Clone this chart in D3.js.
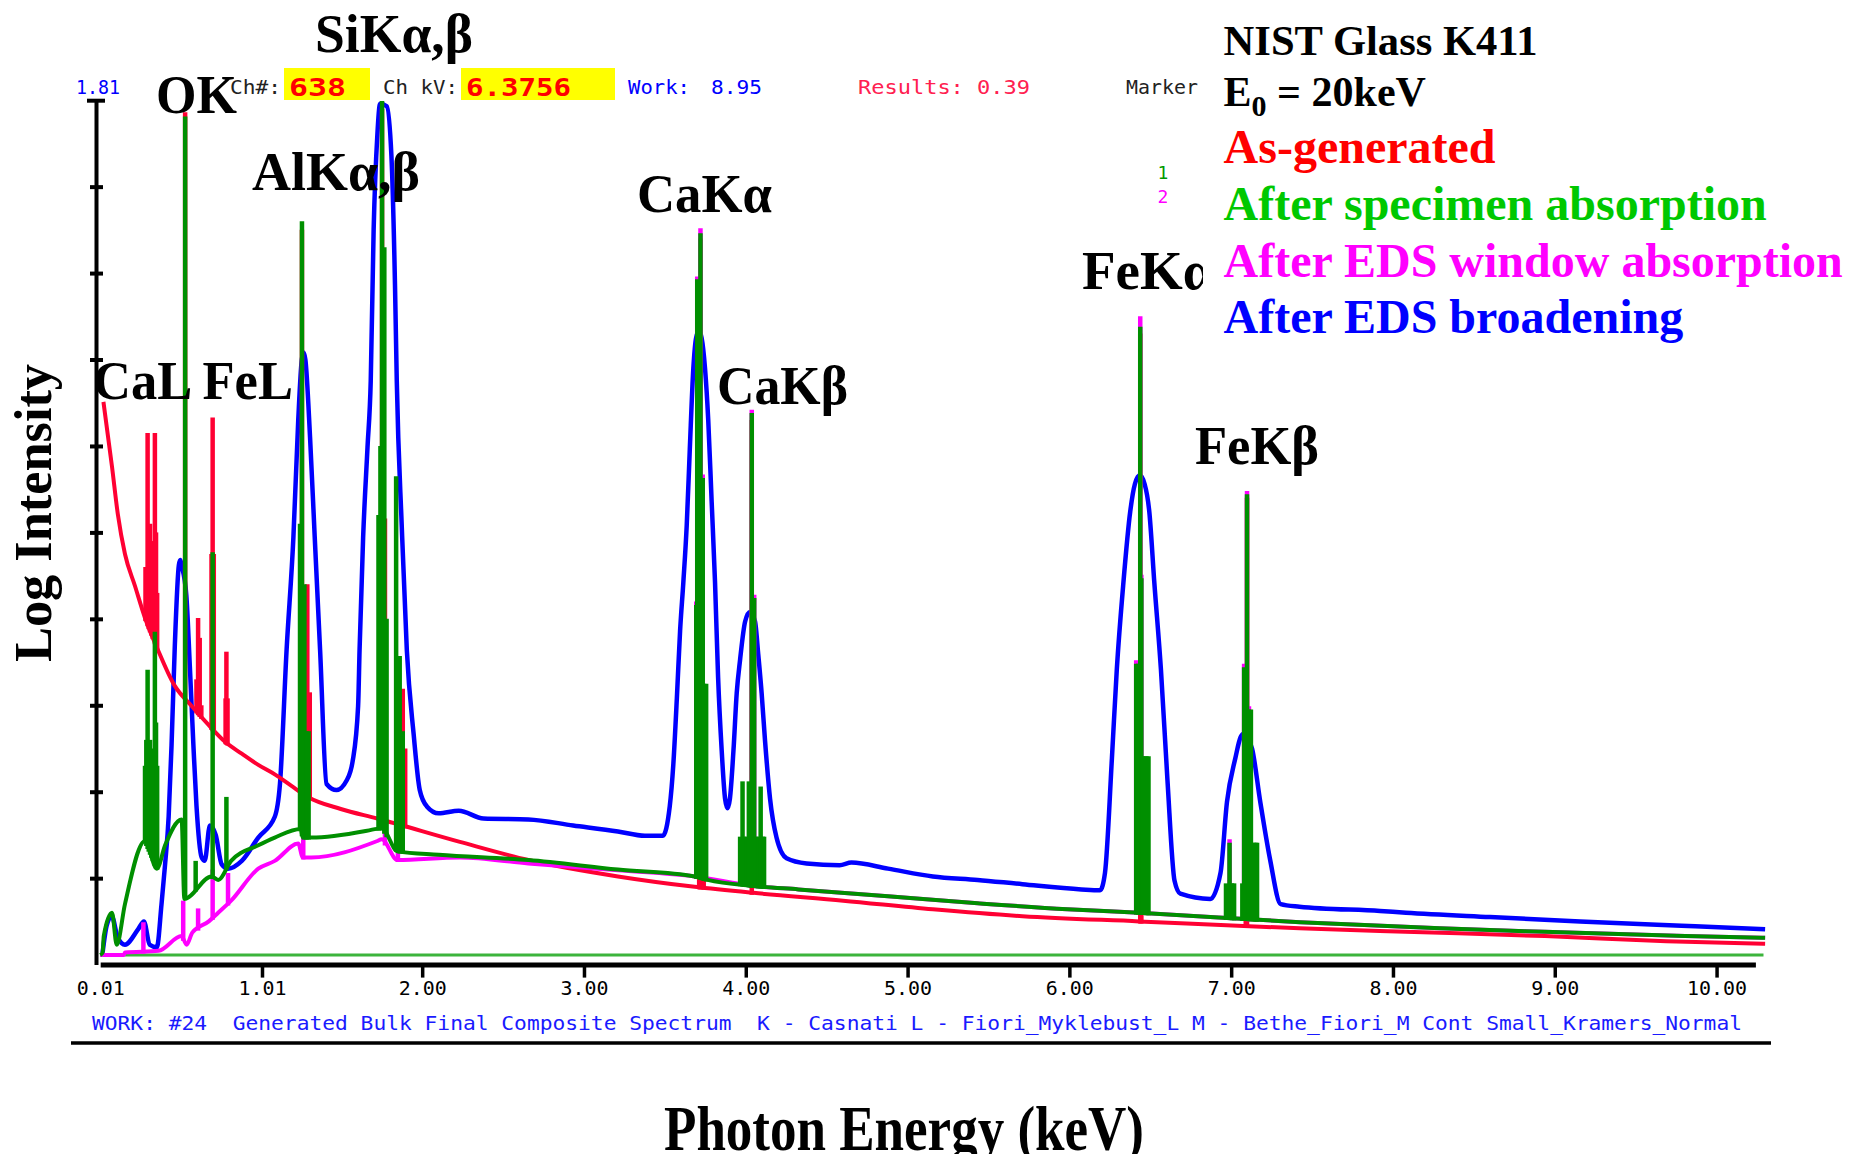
<!DOCTYPE html>
<html>
<head>
<meta charset="utf-8">
<script src="https://cdn.jsdelivr.net/npm/d3@7"></script>
<style>
  body { margin: 0; background: #fff; }
  svg { display: block; }
</style>
</head>
<body>
<div id="chart"></div>
<script>
// Energies in keV, intensities in log units (one y tick = 1)
const xTicks = [0.01, 1.01, 2, 3, 4, 5, 6, 7, 8, 9, 10];
const yTicks = [1, 2, 3, 4, 5, 6, 7, 8, 9, 10];

const zeroTrace = [[0.01, 0.11], [10.29, 0.11]];

// As-generated continuum and its characteristic lines
const asGenerated = [[0.03,6.51],[0.083,5.76],[0.119,5.21],[0.163,4.75],[0.225,4.38],[0.287,4.01],[0.367,3.64],[0.469,3.23],[0.571,3.00],[0.681,2.77],[0.78,2.58],[0.885,2.44],[0.987,2.31],[1.089,2.20],[1.19,2.07],[1.293,1.94],[1.497,1.80],[1.723,1.69],[2.233,1.42],[2.656,1.21],[3.21,1.02],[3.684,0.90],[4.048,0.83],[4.602,0.74],[5.156,0.64],[5.71,0.56],[6.431,0.50],[7.422,0.42],[8.076,0.38],[8.938,0.33],[9.69,0.27],[10.30,0.24]];
const asGeneratedLines = [[0.29,4.6],[0.303,6.15],[0.31,5.0],[0.318,5.1],[0.326,4.8],[0.335,4.9],[0.348,6.15],[0.355,5.0],[0.362,4.3],
  [0.535,9.86],[0.605,3.3],[0.615,4.01],[0.625,3.78],[0.635,3.0],[0.698,4.75],[0.705,6.33],[0.712,4.75],[0.785,3.08],[0.79,3.62],[0.797,3.08],
  [1.257,8.5],[1.29,4.4],[1.305,3.15],[1.752,9.9],[1.77,5.16],[1.88,3.19],[1.895,2.5],
  [3.712,4.1],[3.72,8.4],[3.74,2.7],[4.037,6.3],[6.438,7.3],[6.445,1.38],[7.09,0.95],[7.098,5.4]];

// After specimen absorption
const specimen = [[0.01,0.11],[0.025,0.14],[0.032,0.33],[0.083,0.60],[0.112,0.23],[0.163,0.70],[0.287,1.43],[0.36,1.11],[0.411,1.38],[0.513,1.68],[0.53,0.76],[0.698,1.02],[0.739,0.98],[0.819,1.20],[0.987,1.38],[1.089,1.47],[1.249,1.57],[1.262,1.47],[1.315,1.47],[1.72,1.57],[1.75,1.58],[1.847,1.31],[2.102,1.27],[2.656,1.21],[3.21,1.10],[3.684,1.02],[3.764,0.98],[4.048,0.91],[4.325,0.87],[4.879,0.79],[5.433,0.71],[5.987,0.64],[6.431,0.60],[7.426,0.49],[8.29,0.42],[8.938,0.38],[9.806,0.33],[10.30,0.31]];
const specimenLines = [[0.287,2.3],[0.295,2.6],[0.303,3.41],[0.31,2.35],[0.318,2.6],[0.326,2.4],[0.335,2.5],[0.348,3.85],[0.355,2.8],[0.362,2.3],
  [0.535,9.81],[0.60,1.2],[0.705,4.77],[0.79,1.94],
  [1.245,5.1],[1.257,8.6],[1.272,4.4],[1.285,2.7],[1.298,2.7],
  [1.73,5.2],[1.742,6.0],[1.752,9.99],[1.766,8.3],[1.78,4.0],[1.839,5.65],[1.861,3.57],[1.88,2.7],
  [3.694,4.16],[3.70,7.93],[3.72,8.46],[3.734,5.63],[3.742,3.25],[3.755,3.25],
  [3.965,1.48],[3.98,2.12],[3.99,1.48],[4.005,1.48],[4.019,2.12],[4.03,1.48],[4.037,6.38],[4.052,4.24],[4.065,1.48],[4.078,1.48],[4.092,2.06],[4.105,1.48],[4.113,1.48],
  [6.413,3.48],[6.425,3.48],[6.438,7.38],[6.445,4.47],[6.452,2.41],[6.464,2.41],[6.476,2.41],[6.489,2.41],
  [6.968,0.94],[6.99,1.41],[7.005,0.94],[7.018,0.94],[7.069,0.94],[7.08,3.44],[7.098,5.44],[7.11,2.95],[7.122,2.95],[7.138,1.41],[7.15,1.41],[7.16,1.41]];

// After EDS window absorption
const windowAbs = [[0.01,0.11],[0.156,0.11],[0.163,0.14],[0.371,0.16],[0.513,0.33],[0.544,0.23],[0.579,0.37],[0.681,0.50],[0.739,0.60],[0.819,0.74],[0.987,1.11],[1.089,1.20],[1.234,1.40],[1.262,1.24],[1.315,1.24],[1.723,1.43],[1.75,1.45],[1.847,1.21],[2.233,1.24],[2.656,1.17],[3.21,1.09],[3.684,1.02],[4.048,0.91],[4.325,0.87],[4.879,0.79],[5.433,0.71],[5.987,0.64],[6.431,0.60],[7.426,0.49],[8.29,0.42],[8.938,0.38],[9.806,0.33],[10.30,0.31]];
const windowLines = [[0.277,0.49],[0.523,0.74],[0.615,0.65],[0.705,1.1],[0.80,1.06],[1.265,1.85],[1.77,3.1],[1.85,2.3],
  [3.694,4.2],[3.70,7.96],[3.72,8.52],[3.734,5.67],[4.037,6.42],[4.052,4.28],
  [6.413,3.52],[6.438,7.5],[6.445,4.51],[6.99,1.45],[7.08,3.48],[7.098,5.48],[7.11,2.99]];

// After EDS broadening
const broadened = [[0.025,0.14],[0.05,0.45],[0.081,0.56],[0.119,0.31],[0.163,0.23],[0.245,0.41],[0.28,0.50],[0.316,0.23],[0.36,0.20],[0.389,0.70],[0.411,1.16],[0.433,1.71],[0.451,2.54],[0.471,3.68],[0.496,4.62],[0.505,4.68],[0.513,4.62],[0.542,4.28],[0.564,3.45],[0.586,2.54],[0.605,1.84],[0.637,1.24],[0.656,1.20],[0.688,1.61],[0.724,1.50],[0.761,1.16],[0.801,1.11],[0.885,1.20],[0.987,1.47],[1.089,1.71],[1.121,2.09],[1.162,3.64],[1.204,4.94],[1.234,6.30],[1.256,7.0],[1.267,7.08],[1.278,7.0],[1.307,6.10],[1.336,4.94],[1.369,3.64],[1.409,2.09],[1.471,2.02],[1.533,2.13],[1.57,2.35],[1.604,2.99],[1.613,3.64],[1.635,4.94],[1.662,5.98],[1.682,6.75],[1.70,8.50],[1.723,9.60],[1.74,9.96],[1.781,9.93],[1.81,9.35],[1.832,7.86],[1.843,6.75],[1.874,5.06],[1.905,3.64],[1.947,2.67],[1.985,2.02],[2.029,1.83],[2.102,1.75],[2.226,1.78],[2.379,1.69],[2.656,1.68],[2.933,1.61],[3.21,1.54],[3.377,1.49],[3.487,1.49],[3.53,1.83],[3.552,2.31],[3.574,3.08],[3.594,3.86],[3.614,4.42],[3.635,5.08],[3.654,5.96],[3.676,6.90],[3.693,7.25],[3.71,7.33],[3.727,7.25],[3.748,6.90],[3.768,6.30],[3.789,5.36],[3.81,4.42],[3.829,3.32],[3.851,2.48],[3.872,1.92],[3.887,1.81],[3.902,1.92],[3.924,2.48],[3.944,3.14],[3.965,3.53],[3.996,3.97],[4.026,4.08],[4.057,3.97],[4.077,3.59],[4.098,3.14],[4.119,2.59],[4.15,1.92],[4.19,1.47],[4.252,1.23],[4.376,1.17],[4.58,1.15],[4.653,1.18],[4.879,1.11],[5.156,1.02],[5.433,0.98],[5.71,0.93],[6.074,0.87],[6.19,0.86],[6.22,1.06],[6.263,2.39],[6.293,3.41],[6.334,4.42],[6.376,5.24],[6.405,5.56],[6.435,5.66],[6.465,5.56],[6.494,5.24],[6.525,4.42],[6.566,3.41],[6.606,2.14],[6.65,0.97],[6.686,0.82],[6.871,0.76],[6.934,1.06],[6.974,1.88],[7.026,2.39],[7.058,2.63],[7.077,2.67],[7.095,2.63],[7.129,2.50],[7.18,1.88],[7.241,1.21],[7.306,0.70],[7.422,0.67],[7.92,0.62],[8.08,0.60],[8.6,0.55],[9.157,0.50],[9.784,0.45],[10.30,0.41]];

const legendNames = ["As-generated", "After specimen absorption", "After EDS window absorption", "After EDS broadening"];

const width = 1849, height = 1154;
const colors = { red: "#ff0033", green: "#008f00", magenta: "#ff00ff", blue: "#0000ff", base: "#3cb43c" };
const legendColors = ["#ff0000", "#00c800", "#ff00ff", "#0000ff"];
const serif = "'Liberation Serif', 'Times New Roman', serif";
const mono = "'DejaVu Sans Mono', monospace";

const svg = d3.select("#chart").append("svg")
    .attr("width", width)
    .attr("height", height);

// Scales
const x = d3.scaleLinear().domain([0.01, 10.24]).range([100.2, 1755.4]);
const y = d3.scaleLinear().domain([0, 10]).range([964.6, 100.2]);

const line = d3.line().x(d => x(d[0])).y(d => y(d[1])).curve(d3.curveMonotoneX);

// linear interpolation of a series at energy e, used as foot of each line
function levelAt(series, e) {
    const i = d3.bisector(d => d[0]).left(series, e);
    if (i <= 0) return series[0][1];
    if (i >= series.length) return series[series.length - 1][1];
    const a = series[i - 1], b = series[i];
    return a[1] + (b[1] - a[1]) * (e - a[0]) / (b[0] - a[0]);
}

const plot = svg.append("g");

function drawSeries(cont, lines, color, w) {
    plot.append("path")
        .datum(cont)
        .attr("fill", "none")
        .attr("stroke", color)
        .attr("stroke-width", w)
        .attr("stroke-linejoin", "miter")
        .attr("d", line);
    if (!lines) return;
    plot.append("g")
        .selectAll("line")
        .data(lines)
        .join("line")
          .attr("x1", d => x(d[0]))
          .attr("x2", d => x(d[0]))
          .attr("y1", d => y(levelAt(cont, d[0])) + 2)
          .attr("y2", d => y(d[1]))
          .attr("stroke", color)
          .attr("stroke-width", 4.5);
}

// zero trace, then the four spectra
plot.append("path").datum(zeroTrace)
    .attr("fill", "none").attr("stroke", colors.base).attr("stroke-width", 3)
    .attr("d", d3.line().x(d => x(d[0])).y(d => y(d[1])));
drawSeries(broadened, null, colors.blue, 4.5);
drawSeries(asGenerated, asGeneratedLines, colors.red, 4);
drawSeries(windowAbs, windowLines, colors.magenta, 4);
drawSeries(specimen, specimenLines, colors.green, 4);

// X axis
svg.append("g")
    .attr("transform", `translate(0,${y(0)})`)
    .call(d3.axisBottom(x).tickValues(xTicks).tickFormat(d3.format(".2f"))
        .tickSize(13).tickSizeOuter(0).tickPadding(4))
    .call(g => g.select(".domain").attr("stroke-width", 5))
    .call(g => g.selectAll(".tick line").attr("stroke-width", 3.5))
    .call(g => g.selectAll(".tick").filter(d => d === 0.01).select("line").remove())
    .call(g => g.selectAll(".tick text")
        .attr("font-family", mono)
        .attr("font-size", 19)
        .attr("fill", "#000")
        .attr("textLength", function () { return this.textContent.length * 12; })
        .attr("lengthAdjust", "spacingAndGlyphs"));

// Y axis (no labels, ticks cross the line)
svg.append("g")
    .attr("transform", "translate(96,0)")
    .call(d3.axisLeft(y).tickValues(yTicks).tickFormat("").tickSize(6).tickSizeOuter(0))
    .call(g => g.select(".domain").attr("stroke-width", 4))
    .call(g => g.selectAll(".tick line")
        .attr("x1", d => d === 10 ? 9 : 7)
        .attr("x2", d => d === 10 ? -9 : -6)
        .attr("stroke-width", 4));

// Header strip (program readout)
svg.append("rect").attr("x", 284).attr("y", 68).attr("width", 86).attr("height", 32).attr("fill", "#ffff00");
svg.append("rect").attr("x", 461).attr("y", 68).attr("width", 154).attr("height", 32).attr("fill", "#ffff00");

const header = [
    { t: "1.81", x: 76, w: 44, c: "#0000ff" },
    { t: "Ch#:", x: 230, w: 51, c: "#222" },
    { t: "638", x: 289, w: 57, c: "#ff0000", b: true },
    { t: "Ch kV:", x: 383, w: 75, c: "#222" },
    { t: "6.3756", x: 466, w: 105, c: "#ff0000", b: true },
    { t: "Work:", x: 628, w: 62, c: "#0000ff" },
    { t: "8.95", x: 711, w: 51, c: "#0000ff" },
    { t: "Results: 0.39", x: 858, w: 172, c: "#ff2050" },
    { t: "Marker", x: 1126, w: 72, c: "#222" }
];
svg.append("g").selectAll("text").data(header).join("text")
    .attr("x", d => d.x)
    .attr("y", d => d.b ? 96 : 94)
    .attr("font-family", mono)
    .attr("font-size", d => d.b ? 25 : 20)
    .attr("font-weight", d => d.b ? "bold" : "normal")
    .attr("fill", d => d.c)
    .attr("textLength", d => d.w)
    .attr("lengthAdjust", "spacingAndGlyphs")
    .text(d => d.t);

svg.append("text").attr("x", 1163).attr("y", 179).attr("text-anchor", "middle")
    .attr("font-family", mono).attr("font-size", 18).attr("fill", "#009900").text("1");
svg.append("text").attr("x", 1163).attr("y", 203).attr("text-anchor", "middle")
    .attr("font-family", mono).attr("font-size", 18).attr("fill", "#ff00ff").text("2");

// Footer readout (keep the double spaces)
svg.append("text")
    .attr("x", 92).attr("y", 1030)
    .attr("xml:space", "preserve")
    .style("white-space", "pre")
    .attr("font-family", mono).attr("font-size", 20).attr("fill", "#1a1aff")
    .attr("textLength", 1650).attr("lengthAdjust", "spacingAndGlyphs")
    .text("WORK: #24  Generated Bulk Final Composite Spectrum  K - Casnati L - Fiori_Myklebust_L M - Bethe_Fiori_M Cont Small_Kramers_Normal");
svg.append("line").attr("x1", 71).attr("x2", 1771).attr("y1", 1043).attr("y2", 1043)
    .attr("stroke", "#000").attr("stroke-width", 3.5);

// Peak annotations
svg.append("clipPath").attr("id", "fekaClip")
    .append("rect").attr("x", 0).attr("y", 0).attr("width", 1203).attr("height", height);

const peakLabels = [
    { t: "SiKα,β", x: 315, y: 52, w: 158 },
    { t: "OK", x: 156, y: 113, w: 81 },
    { t: "AlKα,β", x: 252, y: 190, w: 168 },
    { t: "CaKα", x: 637, y: 212, w: 135 },
    { t: "CaKβ", x: 717, y: 404, w: 131 },
    { t: "FeKα", x: 1082, y: 289, clip: true },
    { t: "FeKβ", x: 1195, y: 464, w: 124 },
    { t: "CaL FeL", x: 93, y: 399, w: 200 }
];
svg.append("g").selectAll("text").data(peakLabels).join("text")
    .attr("x", d => d.x)
    .attr("y", d => d.y)
    .attr("font-family", serif)
    .attr("font-weight", "bold")
    .attr("font-size", 55)
    .attr("fill", "#000")
    .attr("textLength", d => d.w || null)
    .attr("lengthAdjust", "spacingAndGlyphs")
    .attr("clip-path", d => d.clip ? "url(#fekaClip)" : null)
    .text(d => d.t);

// Legend block
const legend = svg.append("g").attr("font-family", serif).attr("font-weight", "bold");
legend.append("text").attr("x", 1223.6).attr("y", 55).attr("font-size", 42)
    .attr("textLength", 314).attr("lengthAdjust", "spacingAndGlyphs").text("NIST Glass K411");
const e0 = legend.append("text").attr("x", 1223.6).attr("y", 106).attr("font-size", 42);
e0.append("tspan").text("E");
e0.append("tspan").attr("font-size", 30).attr("dy", 10).text("0");
e0.append("tspan").attr("dy", -10).text(" = 20keV");

legend.selectAll("text.item").data(legendNames).join("text")
    .attr("class", "item")
    .attr("x", 1223.6)
    .attr("y", (d, i) => 162.7 + i * 56.9)
    .attr("font-size", 48)
    .attr("fill", (d, i) => legendColors[i])
    .text(d => d);

// Axis titles
svg.append("text")
    .attr("transform", "translate(51,513) rotate(-90)")
    .attr("text-anchor", "middle")
    .attr("font-family", serif).attr("font-weight", "bold").attr("font-size", 52)
    .attr("textLength", 298).attr("lengthAdjust", "spacingAndGlyphs")
    .text("Log Intensity");
svg.append("text")
    .attr("x", 904).attr("y", 1150)
    .attr("text-anchor", "middle")
    .attr("font-family", serif).attr("font-weight", "bold").attr("font-size", 63)
    .attr("textLength", 480).attr("lengthAdjust", "spacingAndGlyphs")
    .text("Photon Energy (keV)");
</script>
</body>
</html>
